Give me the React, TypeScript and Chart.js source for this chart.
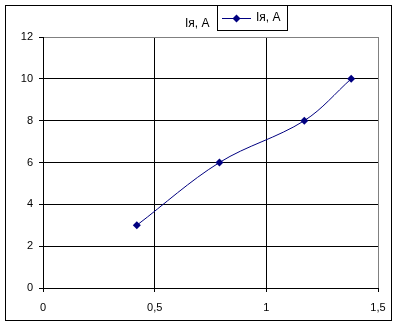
import React, { useEffect, useRef } from "react";
import { Chart, registerables } from "chart.js";

Chart.register(...registerables);

const seriesLabel = "Iя, A";
const titleText = "Iя, A";
const xValues = [0.42, 0.79, 1.17, 1.38];
const yValues = [3, 6, 8, 10];
const xTicks = [0, 0.5, 1, 1.5];
const yTicks = [0, 2, 4, 6, 8, 10, 12];

const NAVY = "#000080";
const FONT = "'Liberation Sans', Arial, sans-serif";

const fmt = (v: number) => String(v).replace(".", ",");

const framePlugin = {
  id: "frame",
  afterDraw(chart: any) {
    const ctx = chart.ctx as CanvasRenderingContext2D;
    ctx.save();
    ctx.strokeStyle = "#000";
    ctx.lineWidth = 1;
    ctx.strokeRect(5.5, 5.5, 386, 315);
    // title text
    ctx.fillStyle = "#000";
    ctx.font = "12px " + FONT;
    ctx.textBaseline = "middle";
    ctx.textAlign = "left";
    ctx.fillText(titleText, 185, 24);
    // legend box
    ctx.fillStyle = "#fff";
    ctx.fillRect(217.5, 5.5, 70, 25);
    ctx.strokeRect(217.5, 5.5, 70, 25);
    ctx.strokeStyle = NAVY;
    ctx.beginPath();
    ctx.moveTo(222, 18.5);
    ctx.lineTo(251, 18.5);
    ctx.stroke();
    ctx.fillStyle = NAVY;
    ctx.beginPath();
    ctx.moveTo(236.5, 14.5);
    ctx.lineTo(240.5, 18.5);
    ctx.lineTo(236.5, 22.5);
    ctx.lineTo(232.5, 18.5);
    ctx.closePath();
    ctx.fill();
    ctx.fillStyle = "#000";
    ctx.fillText(seriesLabel, 256, 18);
    ctx.restore();
  },
};

export default function App() {
  const ref = useRef<HTMLCanvasElement>(null);
  useEffect(() => {
    document.body.style.margin = "0";
    const data = xValues.map((x, i) => ({ x, y: yValues[i] }));
    const chart = new Chart(ref.current!, {
      type: "scatter",
      data: {
        datasets: [
          {
            label: seriesLabel,
            data,
            showLine: true,
            tension: 0.35,
            borderColor: NAVY,
            backgroundColor: NAVY,
            borderWidth: 1,
            pointStyle: "rectRot",
            pointRadius: 4,
            pointBorderWidth: 0,
          },
        ],
      },
      options: {
        animation: false,
        responsive: false,
        devicePixelRatio: 1,
        layout: { padding: { left: 0, top: 37, right: 19, bottom: 10 } },
        plugins: {
          legend: { display: false },
          title: { display: false },
          tooltip: { enabled: false },
        },
        scales: {
          x: {
            type: "linear",
            min: 0,
            max: 1.5,
            afterBuildTicks: (s: any) => {
              s.ticks = xTicks.map((v) => ({ value: v }));
            },
            afterFit: (s: any) => {
              s.height = 28;
              s.paddingLeft = 0;
              s.paddingRight = 0;
            },
            grid: {
              color: (c: any) => (c.tick && c.tick.value === 1.5 ? "#808080" : "#000"),
              lineWidth: 1,
              tickLength: 4,
              tickColor: "#000",
            },
            border: { color: "#000", width: 1 },
            ticks: {
              color: "#000",
              font: { family: FONT, size: 11 },
              padding: 9,
              maxRotation: 0,
              callback: (v: any) => fmt(Number(v)),
            },
          },
          y: {
            type: "linear",
            min: 0,
            max: 12,
            afterBuildTicks: (s: any) => {
              s.ticks = yTicks.map((v) => ({ value: v }));
            },
            afterFit: (s: any) => {
              s.width = 43;
            },
            grid: {
              color: (c: any) => (c.tick && c.tick.value === 12 ? "#808080" : "#000"),
              lineWidth: 1,
              tickLength: 4,
              tickColor: "#000",
            },
            border: { color: "#000", width: 1 },
            ticks: {
              color: "#000",
              font: { family: FONT, size: 11 },
              padding: 6,
              callback: (v: any) => fmt(Number(v)),
            },
          },
        },
      },
      plugins: [framePlugin],
    });
    return () => chart.destroy();
  }, []);
  return (
    <div style={{ width: 397, height: 326, background: "#fff" }}>
      <canvas ref={ref} width={397} height={326} />
    </div>
  );
}
